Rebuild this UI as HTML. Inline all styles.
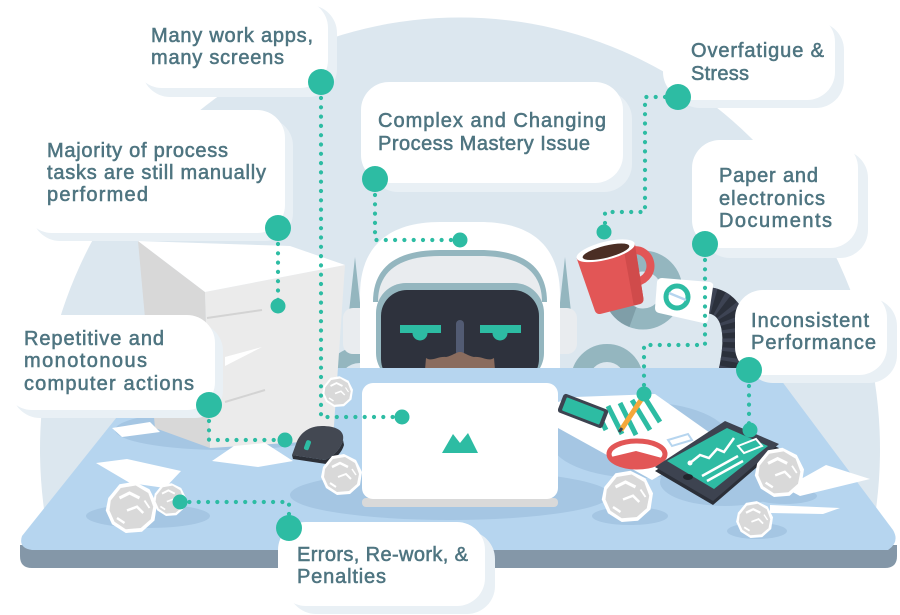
<!DOCTYPE html>
<html><head><meta charset="utf-8"><style>
html,body{margin:0;padding:0;background:#fff;width:900px;height:615px;overflow:hidden;}
svg{display:block;}
text{font-family:"Liberation Sans",Arial,sans-serif;font-weight:normal;font-size:20px;fill:#4f7581;stroke:#4f7581;stroke-width:0.55px;}
</style></head><body>
<svg width="900" height="615" viewBox="0 0 900 615" xmlns="http://www.w3.org/2000/svg">
<defs>
<g id="cp">
<path d="M-19,-8 L-10,-19 L2,-21 L14,-15 L20,-3 L18,10 L8,19 L-5,20 L-16,13 L-21,2 Z" fill="#fff"/>
<path d="M-17,-6 L-9,-16 L3,-18 L13,-12 L17,-1 L15,9 L7,16 L-5,17 L-14,11 L-18,2 Z" fill="#d9d9d9"/>
<path d="M-10,-8 L-2,-12 L6,-8" stroke="#fff" stroke-width="2.5" fill="none"/>
<path d="M-4,2 L4,-1 L9,4" stroke="#fff" stroke-width="2" fill="none"/>
<path d="M-12,8 L-6,12" stroke="#fff" stroke-width="2" fill="none"/>
<path d="M10,-6 L14,0" stroke="#fff" stroke-width="1.5" fill="none"/>
</g>
</defs>
<!-- background blob (pre-clipped at desk) -->
<path d="M52,552 A420,432 0 1 1 868,552 Z" fill="#dce7ef"/>

<!-- rings behind robot -->
<circle cx="360" cy="385" r="30" fill="none" stroke="#94b6bf" stroke-width="16"/>
<circle cx="607" cy="380" r="27" fill="none" stroke="#94b6bf" stroke-width="18"/>
<circle cx="643" cy="290" r="29" fill="none" stroke="#94b6bf" stroke-width="21"/>
<path d="M633,317 A29,29 0 0 1 615,298" fill="none" stroke="#7f9ea8" stroke-width="21"/>

<!-- ears -->
<polygon points="355,257 349,312 361,312" fill="#94b6bf"/>
<polygon points="565,257 559,312 571,312" fill="#94b6bf"/>
<rect x="343" y="308" width="30" height="46" rx="10" fill="#e9ecef"/>
<rect x="547" y="308" width="30" height="46" rx="10" fill="#e9ecef"/>

<!-- robot head -->
<path d="M360,372 V295 C360,245 390,222 440,222 H480 C530,222 560,245 560,295 V372 Z" fill="#fff"/>
<path d="M373,302 C373,268 395,250 440,250 H480 C525,250 547,268 547,302 Z" fill="#94b6bf"/>
<path d="M378,302 C378,272 398,256 440,256 H480 C522,256 542,272 542,302 Z" fill="#e9ecef"/>
<rect x="376" y="283" width="168" height="100" rx="30" fill="#94b6bf"/>
<rect x="381" y="290" width="158" height="95" rx="26" fill="#2e323d"/>
<rect x="400" y="325" width="41" height="8" fill="#2dbca3"/>
<circle cx="420" cy="333" r="7.5" fill="#2dbca3"/>
<rect x="480" y="325" width="41" height="8" fill="#2dbca3"/>
<circle cx="500" cy="333" r="7.5" fill="#2dbca3"/>
<line x1="460" y1="324" x2="460" y2="352" stroke="#525b73" stroke-width="8" stroke-linecap="round"/>
<path d="M425,370 L426,358 C432,362 438,356 446,357 C452,356 456,352 460,352 C464,352 468,356 474,357 C482,356 488,362 494,358 L495,370 Z" fill="#8a6c5e"/>

<!-- arm tube, hand, mug -->
<path d="M700,300 C735,298 741,330 731,374" fill="none" stroke="#2b303b" stroke-width="26"/>
<path d="M700,300 C735,298 741,330 731,374" fill="none" stroke="#3d4353" stroke-width="26" stroke-dasharray="4 6"/>
<path d="M662,278 L710,282 Q714,283 713,287 L708,320 Q707,324 703,323 L659,313 Q655,312 655,308 L657,282 Q658,278 662,278 Z" fill="#fff"/>
<circle cx="677" cy="297" r="11" fill="#fff" stroke="#2dbca3" stroke-width="5"/>
<line x1="669" y1="293" x2="686" y2="300" stroke="#b6d5ef" stroke-width="2.5"/>
<g transform="translate(612,276) rotate(-14)">
<path d="M24,-20 C46,-20 46,12 22,12" stroke="#e25656" stroke-width="8" fill="none"/>
<path d="M-30,-26 L30,-26 L25,30 Q24,34 20,34 L-20,34 Q-24,34 -25,30 Z" fill="#e25656"/>
<path d="M18,-26 L30,-26 L25,30 Q24,34 20,34 L14,34 Z" fill="#d04b4b"/>
<ellipse cx="0" cy="-26" rx="30" ry="9" fill="#fff"/>
<ellipse cx="0" cy="-25" rx="24" ry="6" fill="#4b2e24"/>
</g>

<!-- desk -->
<path d="M20,545 H897 V556 Q897,568 885,568 H32 Q20,568 20,556 Z" fill="#8497a8"/>
<path d="M156,368 L772,368 L893,530 Q900,542 888,550 L32,550 Q18,548 22,536 Z" fill="#b6d5ef"/>

<!-- desk shadows -->
<ellipse cx="225" cy="430" rx="110" ry="20" fill="#a5c6e3"/>
<ellipse cx="450" cy="495" rx="160" ry="25" fill="#a5c6e3"/>
<ellipse cx="640" cy="440" rx="90" ry="38" fill="#a5c6e3"/>
<ellipse cx="725" cy="482" rx="65" ry="24" fill="#a5c6e3"/>
<ellipse cx="148" cy="516" rx="62" ry="12" fill="#a5c6e3"/>
<ellipse cx="630" cy="516" rx="38" ry="9" fill="#a5c6e3"/>
<ellipse cx="757" cy="531" rx="30" ry="8" fill="#a5c6e3"/>
<ellipse cx="785" cy="496" rx="32" ry="8" fill="#a5c6e3"/>

<!-- paper stack -->
<polygon points="138,241 205,292 210,448 155,428" fill="#d8d8d8"/>
<polygon points="205,292 345,265 333,440 210,448" fill="#ebebeb"/>
<polygon points="138,241 290,246 345,265 205,292" fill="#fff"/>
<line x1="207" y1="318" x2="262" y2="310" stroke="#d3d3d3" stroke-width="2"/>
<polygon points="225,357 262,347 225,366" fill="#fff"/>
<line x1="225" y1="402" x2="265" y2="390" stroke="#d3d3d3" stroke-width="2"/>
<polygon points="112,428 150,422 160,432 122,437" fill="#fff"/>

<!-- desk papers -->
<polygon points="96,463 127,459 181,471 165,488 130,483" fill="#fff"/>
<polygon points="212,461 234,446 265,443 293,461 258,467" fill="#fff"/>
<polygon points="785,488 826,465 870,479 800,496" fill="#fff"/>
<polygon points="770,505 840,508 823,514 770,513" fill="#fff"/>

<!-- mouse -->
<path d="M292,455 L296,444 C300,432 310,426 322,426 C335,426 345,430 343,440 C341,448 335,455 325,460 Z" fill="#434852"/>
<path d="M292,455 L325,460 C335,455 341,448 343,440 L344,445 C342,452 336,459 326,464 L293,459 Z" fill="#2c3038"/>
<rect x="305" y="440" width="5" height="10" rx="2" fill="#2dbca3" transform="rotate(20 307 445)"/>

<!-- document sheet -->
<polygon points="558,402 575,397 655,394 720,440 652,480 558,428" fill="#fff"/>
<g stroke="#2dbca3" stroke-width="5">
<line x1="596" y1="410" x2="606" y2="430"/>
<line x1="608" y1="406" x2="622" y2="434"/>
<line x1="620" y1="403" x2="636" y2="435"/>
<line x1="632" y1="400" x2="650" y2="430"/>
<line x1="645" y1="398" x2="660" y2="422"/>
</g>
<line x1="641" y1="400" x2="621" y2="430" stroke="#f5a83a" stroke-width="5"/>
<line x1="622" y1="428" x2="619" y2="432" stroke="#3d4350" stroke-width="3"/>
<ellipse cx="637" cy="454" rx="28" ry="13" fill="#fff" stroke="#e25656" stroke-width="5"/>
<path d="M611,457 L636,451 L662,458 A28,13 0 0 1 611,457 Z" fill="#e25656"/>
<polygon points="668,440 688,434 692,440 672,446" fill="#fff" stroke="#b6d5ef" stroke-width="2"/>
<!-- phone -->
<g transform="translate(583,411) rotate(21)">
<rect x="-24" y="-10" width="48" height="20" rx="3" fill="#3d4350"/>
<rect x="-20" y="-7" width="40" height="14" rx="1" fill="#2dbca3"/>
</g>
<!-- tablet -->
<polygon points="725,425 779,448 713,505 655,471" fill="#2b2f38"/>
<polygon points="725,421 779,444 713,501 655,467" fill="#3d4350"/>
<polygon points="727,428 768,446 714,489 667,461" fill="#2ebba3"/>
<ellipse cx="688" cy="477" rx="5" ry="3" fill="#22252c"/>
<polyline points="690,463 700,455 709,458 717,449 724,452 734,438" fill="none" stroke="#fff" stroke-width="2.5"/>
<circle cx="690" cy="463" r="2.5" fill="#fff"/>
<polygon points="738,446 756,439 762,446 744,453" fill="none" stroke="#fff" stroke-width="2"/>
<line x1="702" y1="476" x2="738" y2="456" stroke="#fff" stroke-width="2.5"/>
<line x1="707" y1="481" x2="743" y2="461" stroke="#fff" stroke-width="2.5"/>

<!-- laptop -->
<rect x="362" y="498" width="196" height="9" rx="4" fill="#d9d9d9"/>
<rect x="362" y="383" width="196" height="116" rx="11" fill="#fff"/>
<polygon points="442,453 453,434 460,443 468,433 478,453" fill="#2dbca3"/>

<!-- crumpled papers -->
<use href="#cp" transform="translate(338,392) scale(0.75)"/>
<use href="#cp" transform="translate(342,475) scale(1)"/>
<use href="#cp" transform="translate(132,508) scale(1.25)"/>
<use href="#cp" transform="translate(170,500) scale(0.8)"/>
<use href="#cp" transform="translate(628,497) scale(1.25)"/>
<use href="#cp" transform="translate(780,473) scale(1.2)"/>
<use href="#cp" transform="translate(755,520) scale(0.9)"/>

<!-- bubbles -->
<g fill="#e9f0f5">
<rect x="142" y="5" width="195" height="92" rx="28"/>
<rect x="32" y="118" width="261" height="123" rx="28"/>
<rect x="370" y="91" width="262" height="101" rx="28"/>
<rect x="672" y="22" width="172" height="86" rx="28"/>
<rect x="702" y="150" width="166" height="108" rx="28"/>
<rect x="745" y="298" width="152" height="85" rx="28"/>
<rect x="12" y="323" width="211" height="95" rx="28"/>
<rect x="288" y="531" width="207" height="83" rx="28"/>
</g>
<g fill="#fff">
<rect x="134" y="0" width="194" height="88" rx="28"/>
<rect x="24" y="110" width="261" height="123" rx="28"/>
<rect x="361" y="82" width="262" height="101" rx="28"/>
<rect x="663" y="14" width="172" height="86" rx="28"/>
<rect x="692" y="140" width="166" height="108" rx="28"/>
<rect x="735" y="290" width="152" height="85" rx="28"/>
<rect x="4" y="315" width="211" height="95" rx="28"/>
<rect x="278" y="522" width="207" height="84" rx="28"/>
</g>

<!-- texts -->
<text x="151" y="42" textLength="162">Many work apps,</text>
<text x="151" y="64" textLength="133">many screens</text>
<text x="47" y="157" textLength="181">Majority of process</text>
<text x="47" y="179" textLength="219">tasks are still manually</text>
<text x="47" y="201" textLength="101">performed</text>
<text x="378" y="127" textLength="228">Complex and Changing</text>
<text x="378" y="150" textLength="212">Process Mastery Issue</text>
<text x="691" y="57" textLength="133">Overfatigue &amp;</text>
<text x="691" y="80" textLength="58">Stress</text>
<text x="719" y="182" textLength="99">Paper and</text>
<text x="719" y="205" textLength="106">electronics</text>
<text x="719" y="227" textLength="113">Documents</text>
<text x="751" y="327" textLength="118">Inconsistent</text>
<text x="751" y="349" textLength="125">Performance</text>
<text x="24" y="345" textLength="140">Repetitive and</text>
<text x="24" y="367" textLength="123">monotonous</text>
<text x="24" y="390" textLength="170">computer actions</text>
<text x="297" y="561" textLength="171">Errors, Re-work, &amp;</text>
<text x="297" y="583" textLength="89">Penalties</text>

<!-- connectors -->
<g fill="none" stroke="#2dbca3" stroke-width="4.2" stroke-linecap="round" stroke-dasharray="0 9.3">
<path d="M321,98 V417 H396"/>
<path d="M278,244 V300"/>
<path d="M375,195 V240 H453"/>
<path d="M665,97 H645 V212 H605 V226"/>
<path d="M705,260 V345 H644 V388"/>
<path d="M749,386 V424"/>
<path d="M209,421 V440 H279"/>
<path d="M289,514 V502 H186"/>
</g>
<g fill="#2dbca3">
<circle cx="321" cy="82" r="13"/>
<circle cx="402" cy="417" r="7.5"/>
<circle cx="278" cy="228" r="13"/>
<circle cx="278" cy="306" r="7.5"/>
<circle cx="375" cy="179" r="13"/>
<circle cx="460" cy="240" r="7.5"/>
<circle cx="678" cy="97" r="13"/>
<circle cx="604" cy="232" r="7.5"/>
<circle cx="705" cy="244" r="13"/>
<circle cx="644" cy="394" r="7.5"/>
<circle cx="749" cy="370" r="13"/>
<circle cx="750" cy="430" r="7.5"/>
<circle cx="209" cy="405" r="13"/>
<circle cx="285" cy="440" r="7.5"/>
<circle cx="289" cy="528" r="13"/>
<circle cx="180" cy="502" r="7.5"/>
</g>
</svg>
</body></html>
